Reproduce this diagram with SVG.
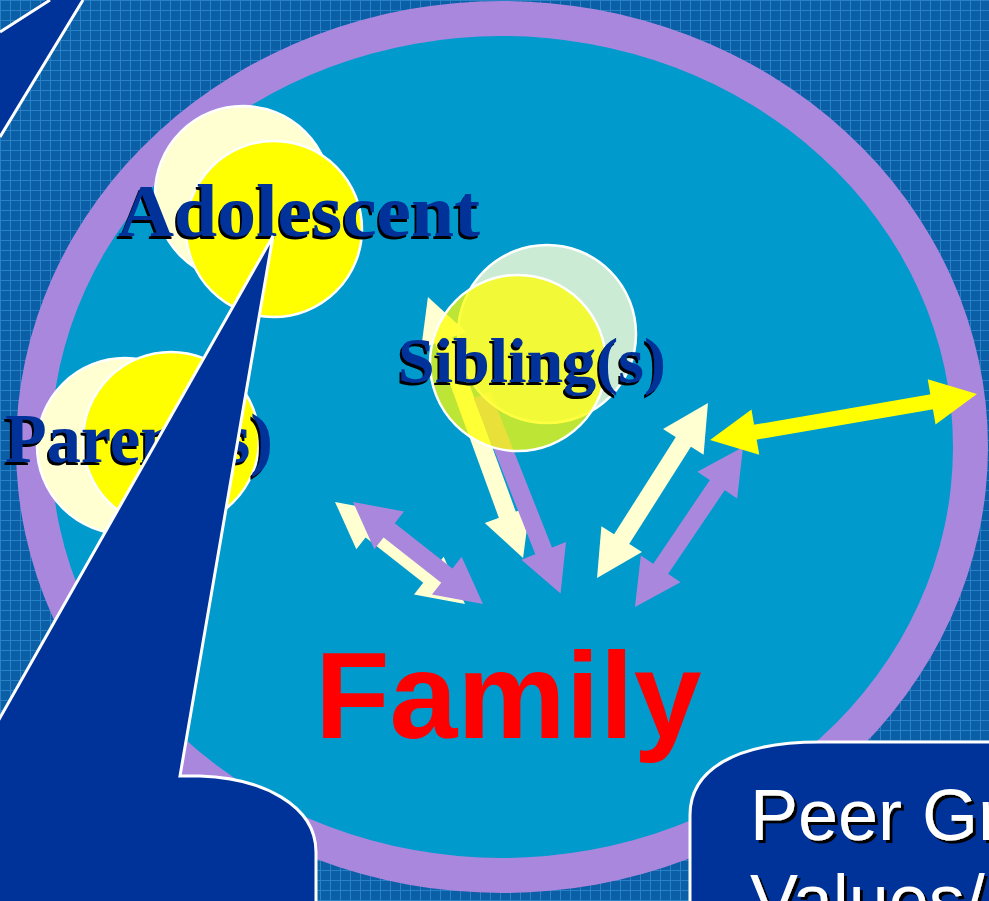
<svg xmlns="http://www.w3.org/2000/svg" width="989" height="901" viewBox="0 0 989 901">
<style>
.ser{font-family:"Liberation Serif","DejaVu Serif",serif;font-weight:bold;fill:#003399}
.san{font-family:"Liberation Sans",Arial,sans-serif}
.circ{stroke:#fff;stroke-width:2.5}
.cream{fill:#FFFFD2}
.yel{fill:#FFFF00}
.call{fill:#003399;stroke:#fff;stroke-width:3;stroke-linejoin:miter}
.shc{stroke:#FFFFD2;stroke-width:18;fill:none}
.shp{stroke:#A987DD;stroke-width:18;fill:none}
.shy{stroke:#FFFF00;stroke-width:15;fill:none}
</style>
<defs>
<pattern id="grid" width="10" height="10" patternUnits="userSpaceOnUse">
<rect width="10" height="10" fill="#0A5FA6"/>
<path d="M0 0.5H10M0.5 0V10" stroke="#2E89CC" stroke-width="1" opacity="0.8"/>
</pattern>
<filter id="shL" x="-5%" y="-15%" width="110%" height="140%">
<feFlood flood-color="#000"/><feComposite in2="SourceAlpha" operator="in"/><feOffset dx="-2" dy="3" result="s"/>
<feMerge><feMergeNode in="s"/><feMergeNode in="SourceGraphic"/></feMerge>
</filter>
<filter id="shR" x="-5%" y="-15%" width="110%" height="140%">
<feFlood flood-color="#000"/><feComposite in2="SourceAlpha" operator="in"/><feOffset dx="3" dy="3" result="s"/>
<feMerge><feMergeNode in="s"/><feMergeNode in="SourceGraphic"/></feMerge>
</filter>
<marker id="hc" markerUnits="userSpaceOnUse" markerWidth="50" markerHeight="52" viewBox="0 -26 48 52" refX="2" refY="0" orient="auto-start-reverse"><path d="M0,-24 L46,0 L0,24 Z" fill="#FFFFD2"/></marker>
<marker id="hp" markerUnits="userSpaceOnUse" markerWidth="50" markerHeight="52" viewBox="0 -26 48 52" refX="2" refY="0" orient="auto-start-reverse"><path d="M0,-24 L46,0 L0,24 Z" fill="#A987DD"/></marker>
<marker id="hy" markerUnits="userSpaceOnUse" markerWidth="50" markerHeight="52" viewBox="0 -26 48 52" refX="2" refY="0" orient="auto-start-reverse"><path d="M0,-23 L46,0 L0,23 Z" fill="#FFFF00"/></marker>
</defs>
<rect width="989" height="901" fill="url(#grid)"/>
<g id="family-circle">
<ellipse cx="502" cy="447" rx="486" ry="446" fill="#A987DD"/>
<ellipse cx="502" cy="447" rx="451" ry="411" fill="#009ACC"/>
</g>
<g id="connectors">
<line class="shc" x1="369.6" y1="529.1" x2="430.4" y2="576.9" marker-start="url(#hc)" marker-end="url(#hc)"/>
<line class="shp" x1="387.6" y1="529.1" x2="448.4" y2="576.9" marker-start="url(#hp)" marker-end="url(#hp)"/>
<line class="shc" x1="443" y1="338.4" x2="508" y2="516.6" marker-start="url(#hc)" marker-end="url(#hc)"/>
<line class="shp" x1="482" y1="395" x2="544.4" y2="552.7" marker-end="url(#hp)"/>
<line class="shc" x1="684.4" y1="440.2" x2="620.6" y2="540.8" marker-start="url(#hc)" marker-end="url(#hc)"/>
<line class="shp" x1="718.4" y1="483.5" x2="659.6" y2="570.5" marker-start="url(#hp)" marker-end="url(#hp)"/>
<line class="shy" x1="753.4" y1="432.5" x2="933.6" y2="401.5" marker-start="url(#hy)" marker-end="url(#hy)"/>
</g>
<g id="adolescent">
<circle class="circ cream" cx="243" cy="194" r="88"/>
<circle class="circ yel" cx="274" cy="229" r="88"/>
<text class="ser" x="118" y="236" font-size="74" textLength="362" lengthAdjust="spacingAndGlyphs" filter="url(#shL)">Adolescent</text>
</g>
<g id="siblings">
<circle class="circ" cx="547" cy="334" r="89" fill="#FFFFD6" fill-opacity="0.8"/>
<circle class="circ" cx="518" cy="363" r="88" fill="#FFFF00" fill-opacity="0.74"/>
<text class="ser" x="398" y="382" font-size="64" textLength="268" lengthAdjust="spacingAndGlyphs" filter="url(#shL)">Sibling(s)</text>
</g>
<g id="parents">
<circle class="circ cream" cx="125" cy="446" r="88"/>
<circle class="circ yel" cx="171" cy="440" r="88"/>
<text class="ser" x="5" y="462" font-size="70" textLength="268" lengthAdjust="spacingAndGlyphs" filter="url(#shL)">Parent(s)</text>
</g>
<g id="family">
<text class="san" x="315" y="738" font-size="122" font-weight="bold" fill="#FF0000">Family</text>
</g>
<g id="callout-left">
<path class="call" d="M273,236 L180,776 L200,776 C262,778 316,805 316,852 V906 H-3 V723 Z"/>
</g>
<g id="callout-top">
<path d="M50,-3 L50,0 L83,0 L0,137 L-3,137 V32 L0,32 Z" fill="#003399"/>
<path d="M0,32 L50,0 M83,0 L0,137" stroke="#fff" stroke-width="3" fill="none"/>
</g>
<g id="peer-group">
<path class="call" d="M690,906 V815 C690,770 735,742 820,742 H994 V906 Z"/>
<text class="san" x="750" y="840" font-size="72" fill="#fff" filter="url(#shR)">Peer Gr</text>
<text class="san" x="750" y="925" font-size="72" fill="#fff" filter="url(#shR)">Values/</text>
</g>
</svg>
